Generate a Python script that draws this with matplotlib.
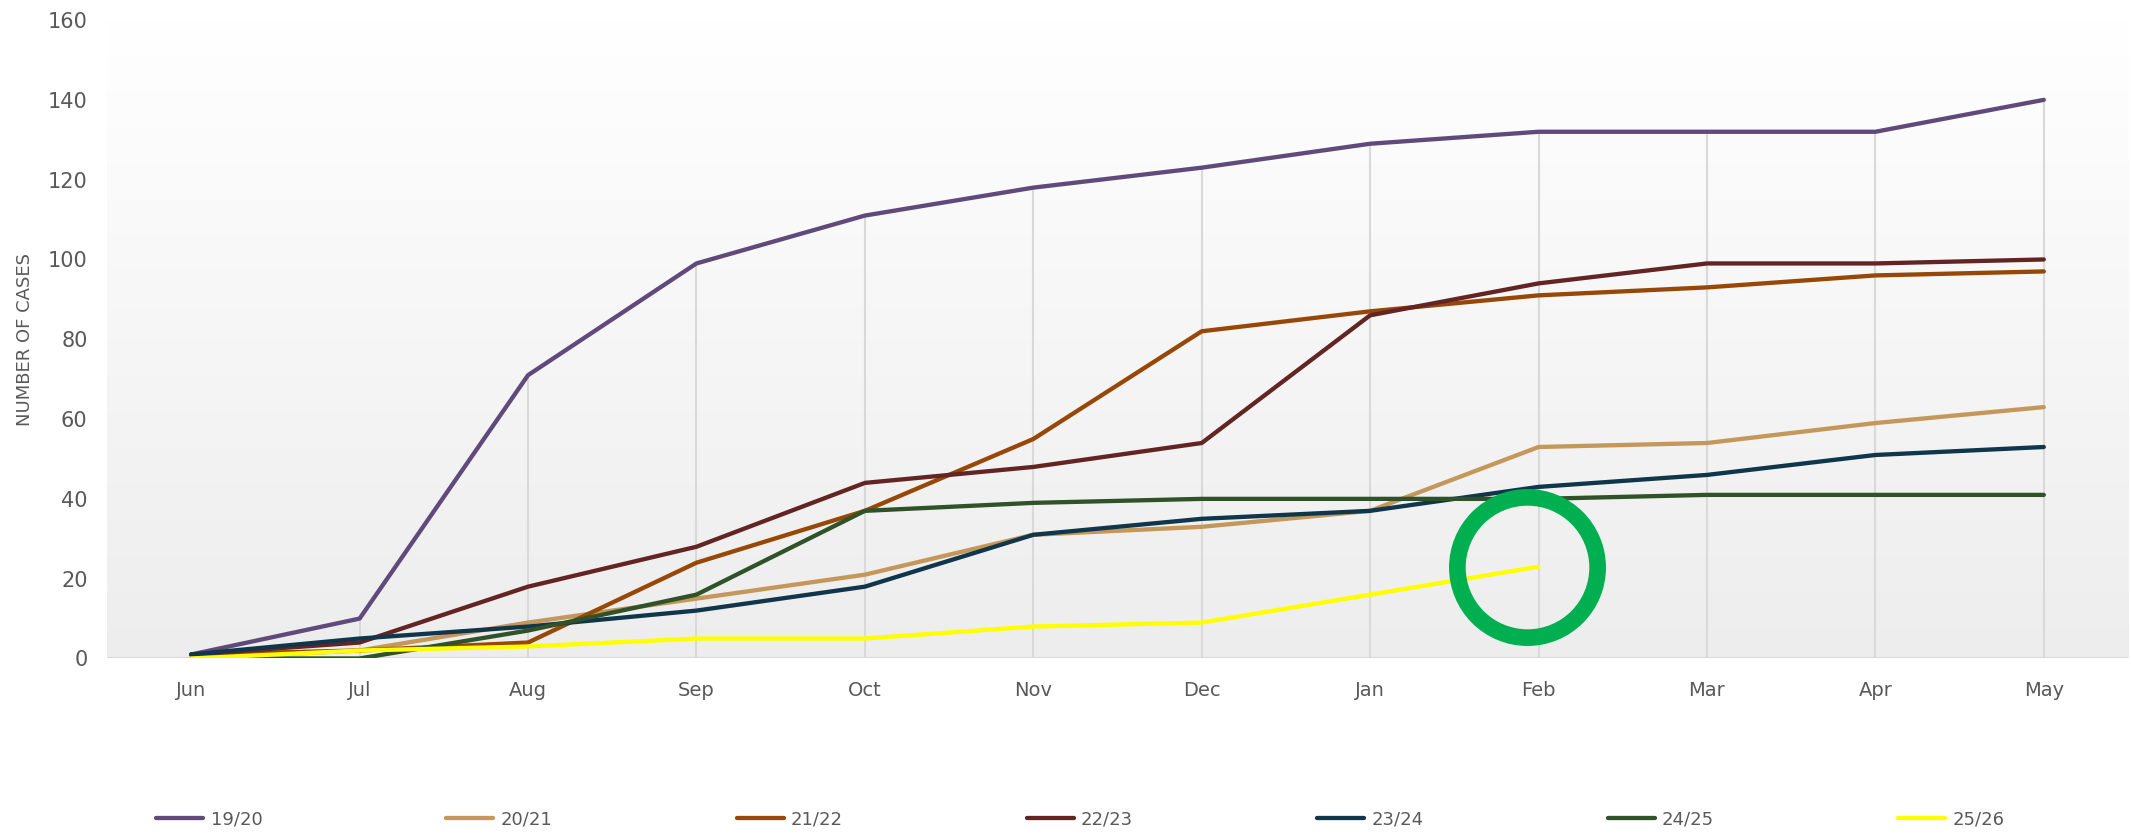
import matplotlib
matplotlib.use("Agg")
import matplotlib.pyplot as plt
import numpy as np

# month labels and the cumulative case counts per season
months = ["Jun", "Jul", "Aug", "Sep", "Oct", "Nov", "Dec", "Jan", "Feb", "Mar", "Apr", "May"]
seasons = ["19/20", "20/21", "21/22", "22/23", "23/24", "24/25", "25/26"]

s1920 = [1, 10, 71, 99, 111, 118, 123, 129, 132, 132, 132, 140]
s2021 = [0, 2, 9, 15, 21, 31, 33, 37, 53, 54, 59, 63]
s2122 = [1, 2, 4, 24, 37, 55, 82, 87, 91, 93, 96, 97]
s2223 = [1, 4, 18, 28, 44, 48, 54, 86, 94, 99, 99, 100]
s2324 = [1, 5, 8, 12, 18, 31, 35, 37, 43, 46, 51, 53]
s2425 = [0, 0, 7, 16, 37, 39, 40, 40, 40, 41, 41, 41]
s2526 = [0, 2, 3, 5, 5, 8, 9, 16, 23]

colors = ["#604A7B", "#C4985A", "#974806", "#632523", "#10364C", "#2F5228", "#FFFF00"]

# highlight ring around the latest value
ring_month = 7.93
ring_value = 23

series = [s1920, s2021, s2122, s2223, s2324, s2425, s2526]
text_col = "#595959"

fig = plt.figure(figsize=(21.31, 8.35), dpi=100)
ax = fig.add_axes([0.0502, 0.2114, 0.9484, 0.7646])

# soft vertical gradient behind the plot
grad = np.linspace(0, 1, 256).reshape(-1, 1)
top = np.array([1.0, 1.0, 1.0])
bot = np.array([0.93, 0.93, 0.93])
img = top + (bot - top) * grad[:, :, None]
ax.imshow(img, extent=[-0.5, 11.5, 0, 160], aspect="auto", zorder=0, origin="upper")

# drop lines from the highest point down to the axis
x = np.arange(len(months))
tops = [max(s[i] for s in series if i < len(s)) for i in x]
ax.vlines(x, 0, tops, color="#d9d9d9", lw=1.5, zorder=1)
ax.axhline(0, color="#d9d9d9", lw=1.5, zorder=1)

for name, vals, c in zip(seasons, series, colors):
  ax.plot(np.arange(len(vals)), vals, color=c, lw=3.1, label=name,
          solid_capstyle="round", solid_joinstyle="round", zorder=3)

ax.plot([ring_month], [ring_value], marker="o", ms=101, mfc="none",
        mec="#00B050", mew=12, zorder=4)

ax.set_xlim(-0.5, 11.5)
ax.set_ylim(0, 160)
ax.set_xticks(x)
ax.set_xticklabels(months)
ax.set_yticks(np.arange(0, 161, 20))
ax.tick_params(axis="both", length=0, labelsize=14, colors=text_col)
ax.tick_params(axis="x", pad=16)
ax.tick_params(axis="y", labelsize=15, pad=14)
for s in ax.spines.values():
  s.set_visible(False)

ax.set_ylabel("NUMBER OF CASES", fontsize=13, color=text_col)
ax.yaxis.set_label_coords(-0.036, 0.5)

fig.legend(loc="center", bbox_to_anchor=(0.507, 0.019), ncol=7, frameon=False,
           fontsize=13, handlelength=2.6, columnspacing=10.2,
           labelcolor=text_col, handletextpad=0.4)

fig.savefig("out.png", dpi=100)
